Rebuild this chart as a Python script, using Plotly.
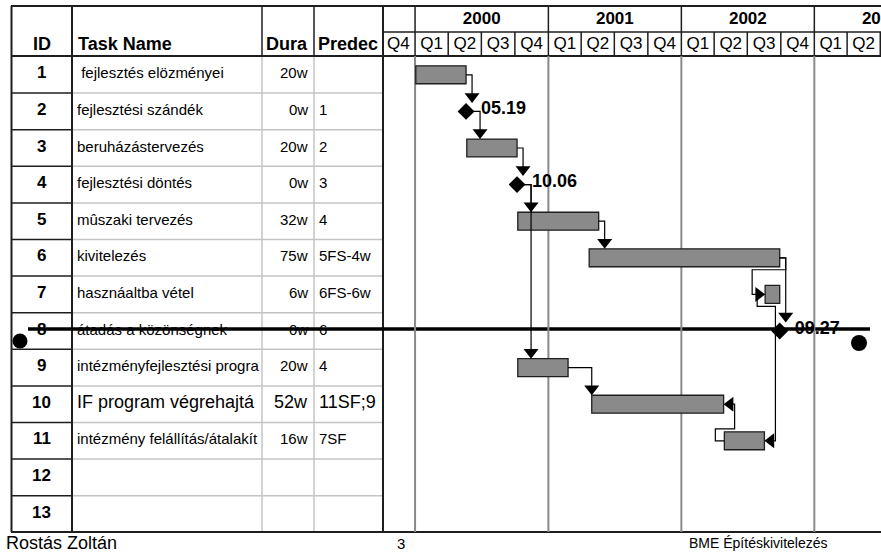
import plotly.graph_objects as go
from datetime import datetime, timedelta

# ---------------- data ----------------
task_ids = ["1", "2", "3", "4", "5", "6", "7", "8", "9", "10", "11", "12", "13"]
task_names = [" fejlesztés elözményei", "fejlesztési szándék", "beruházástervezés",
              "fejlesztési döntés", "mûszaki tervezés", "kivitelezés",
              "hasznáaltba vétel", "átadás a közönségnek", "intézményfejlesztési progra",
              "IF program végrehajtá", "intézmény felállítás/átalakít", "", ""]
duration_labels = ["20w", "0w", "20w", "0w", "32w", "75w", "6w", "0w", "20w", "52w", "16w", "", ""]
predecessor_labels = ["", "1", "2", "3", "4", "5FS-4w", "6FS-6w", "6", "4", "11SF;9", "7SF", "", ""]

task_rows = [1, 2, 3, 4, 5, 6, 7, 8, 9, 10, 11]
task_starts = ["2000-01-03", "2000-05-19", "2000-05-22", "2000-10-06", "2000-10-09",
               "2001-04-23", "2002-08-19", "2002-09-27", "2000-10-09", "2001-04-30", "2002-04-29"]
task_weeks = [20, 0, 20, 0, 32, 75, 6, 0, 20, 52, 16]
milestone_text = ["", "05.19", "", "10.06", "", "", "", "09.27", "", "", ""]

links = [(1, 2, "FS"), (2, 3, "FS"), (3, 4, "FS"), (4, 5, "FS"), (4, 9, "FS"),
         (5, 6, "FS"), (6, 7, "FS"), (6, 8, "FS"), (9, 10, "FS"), (7, 11, "SF"), (11, 10, "SF")]

year_starts = ["2000-01-01", "2001-01-01", "2002-01-01", "2003-01-01", "2004-01-01"]
year_labels = ["2000", "2001", "2002", "2003"]
quarter_starts = ["1999-10-01", "2000-01-01", "2000-04-01", "2000-07-01", "2000-10-01",
                  "2001-01-01", "2001-04-01", "2001-07-01", "2001-10-01",
                  "2002-01-01", "2002-04-01", "2002-07-01", "2002-10-01",
                  "2003-01-01", "2003-04-01", "2003-07-01"]
quarter_labels = ["Q4", "Q1", "Q2", "Q3", "Q4", "Q1", "Q2", "Q3", "Q4",
                  "Q1", "Q2", "Q3", "Q4", "Q1", "Q2"]

footer_left = "Rostás Zoltán"
footer_mid = "3"
footer_right = "BME Építéskivitelezés"
struck_row = 8

# ---------------- layout geometry ----------------
W, H = 881, 553
BODY_TOP = 56.5
ROW_H = 36.6
GANTT_LEFT = 383
X2_RANGE = ["1999-10-05", "2003-07-03"]
DPP = (datetime(2003, 7, 3) - datetime(1999, 10, 5)).days / (W - GANTT_LEFT)


def Y(px):
    return 0.5 + (px - BODY_TOP) / ROW_H


def DY(px):
    return px / ROW_H


def DX(px):
    return timedelta(days=px * DPP)


HB = 0.245  # half bar height (rows)
DIA = DY(8.5)

NARROW = "Liberation Sans Narrow, Arial Narrow, Liberation Sans, Arial"
SANS = "Liberation Sans, Arial, Helvetica"
DARK = "#1e1e1e"
LIGHT = "#c4c4c4"
GRAYV = "#8a8a8a"

fig = go.Figure()

# ---------------- struck-through row overlay (drawn on the full-width axis) ----------------
fig.add_trace(go.Scatter(x=[28, 870], y=[struck_row - DY(2)] * 2, mode="lines",
                         line=dict(color="#000000", width=3.5), xaxis="x", yaxis="y",
                         hoverinfo="skip"))
fig.add_trace(go.Scatter(x=[20, 859], y=[struck_row + DY(10), struck_row + DY(12)], mode="markers",
                         marker=dict(size=[15, 16], color="#000000", opacity=1, line=dict(width=0)),
                         xaxis="x", yaxis="y", hoverinfo="skip"))

# ---------------- task geometry ----------------
geo = {}
for row, s, w in zip(task_rows, task_starts, task_weeks):
    st = datetime.fromisoformat(s)
    if w == 0:
        st = st + timedelta(days=1)
        en = st
    else:
        en = st + timedelta(days=7 * w - 2)
    geo[row] = dict(start=st, end=en, y=row, ms=(w == 0))

# ---------------- bars ----------------
bar_ids = [r for r in task_rows if not geo[r]["ms"]]
fig.add_trace(go.Bar(
    y=bar_ids,
    base=[geo[r]["start"] for r in bar_ids],
    x=[(geo[r]["end"] - geo[r]["start"]).total_seconds() * 1000 for r in bar_ids],
    orientation="h", width=2 * HB,
    marker=dict(color="#8a8a8a", line=dict(color=DARK, width=1.3)),
    xaxis="x2", yaxis="y", hoverinfo="skip"))

# ---------------- links ----------------
lx, ly = [], []
ax_, ay_, asym = [], [], []


def top_of(j):
    return geo[j]["y"] - (DIA if geo[j]["ms"] else HB)


for i, j, kind in links:
    gi, gj = geo[i], geo[j]
    y0, yj = gi["y"], gj["y"]
    if kind == "FS":
        x0 = gi["end"]
        off = DX(14) if gi["ms"] else DX(6)
        xv = max(x0 + off, gj["start"])
        limit = gj["end"] + (DX(8) if gj["ms"] else timedelta(0))
        if xv <= limit:
            yc = top_of(j) - DY(6.5)
            pts = [(x0, y0), (xv, y0), (xv, yc)]
            ax_.append(xv); ay_.append(yc); asym.append("triangle-down")
        else:
            yb = y0 + HB + DY(3)
            xl = gj["start"] - DX(13)
            xc = gj["start"] - DX(6.5)
            pts = [(x0, y0), (x0 + DX(6), y0), (x0 + DX(6), yb), (xl, yb), (xl, yj), (xc, yj)]
            ax_.append(xc); ay_.append(yj); asym.append("triangle-right")
    else:  # SF
        x0 = gi["start"]
        xe = gj["end"]
        if yj > y0:
            yb = y0 + HB + DY(3)
            xl = x0 - DX(8)
        else:
            yb = y0 - HB - DY(3)
            xl = x0 - DX(9)
        xr = xe + DX(11)
        xc = xe + DX(6.5)
        pts = [(x0, y0), (xl, y0), (xl, yb), (xr, yb), (xr, yj), (xc, yj)]
        ax_.append(xc); ay_.append(yj); asym.append("triangle-left")
    for px_, py_ in pts:
        lx.append(px_); ly.append(py_)
    lx.append(None); ly.append(None)

fig.add_trace(go.Scatter(x=lx, y=ly, mode="lines", line=dict(color="#000000", width=1.2),
                         xaxis="x2", yaxis="y", hoverinfo="skip"))
fig.add_trace(go.Scatter(x=ax_, y=ay_, mode="markers",
                         marker=dict(symbol=asym, size=13, color="#000000", line=dict(width=0)),
                         xaxis="x2", yaxis="y", hoverinfo="skip"))

# ---------------- milestones ----------------
ms_ids = [r for r in task_rows if geo[r]["ms"]]
fig.add_trace(go.Scatter(
    x=[geo[r]["start"] for r in ms_ids], y=ms_ids, mode="markers",
    marker=dict(symbol="diamond", size=13, color="#000000"),
    xaxis="x2", yaxis="y", hoverinfo="skip"))
fig.add_trace(go.Scatter(
    x=[geo[r]["start"] + DX(15) for r in ms_ids],
    y=[r - DY(2) for r in ms_ids],
    text=[milestone_text[task_rows.index(r)] for r in ms_ids],
    mode="text", textposition="middle right",
    textfont=dict(family=SANS, size=18, color="#000000", weight="bold"),
    xaxis="x2", yaxis="y", hoverinfo="skip", cliponaxis=False))

# ---------------- timescale header text ----------------
qs = [datetime.fromisoformat(q) for q in quarter_starts]
q_mid = [qs[k] + (qs[k + 1] - qs[k]) / 2 for k in range(len(quarter_labels))]
fig.add_trace(go.Scatter(x=q_mid, y=[Y(44.5)] * len(q_mid), text=quarter_labels,
                         mode="text", textfont=dict(family=SANS, size=17, color="#000000"),
                         xaxis="x2", yaxis="y", hoverinfo="skip", cliponaxis=True))
ys = [datetime.fromisoformat(q) for q in year_starts]
y_mid = [ys[k] + (ys[k + 1] - ys[k]) / 2 for k in range(len(year_labels))]
fig.add_trace(go.Scatter(x=y_mid, y=[Y(19.5)] * len(y_mid), text=year_labels,
                         mode="text", textfont=dict(family=SANS, size=17, color="#000000", weight="bold"),
                         xaxis="x2", yaxis="y", hoverinfo="skip", cliponaxis=True))

# ---------------- table grid (shapes) ----------------
shapes = []


def line(x0, y0, x1, y1, color, width, xref="x"):
    shapes.append(dict(type="line", xref=xref, yref="y", x0=x0, x1=x1, y0=y0, y1=y1,
                       line=dict(color=color, width=width), layer="below"))


n_rows = len(task_ids)
for k in range(1, n_rows):
    yb = k + 0.5
    line(11, yb, 72, yb, DARK, 1.5)
    line(72, yb, GANTT_LEFT, yb, LIGHT, 1.5)
for xc in (262, 314):
    line(xc, Y(6), xc, Y(56), DARK, 1.5)
    line(xc, Y(56), xc, Y(532), LIGHT, 1.5)
# gantt header
line(GANTT_LEFT, Y(32), W, Y(32), DARK, 1.5)
for q in quarter_starts:
    if q not in year_starts:
        line(q, Y(32), q, Y(56), DARK, 1.5, xref="x2")
for yv in year_starts:
    line(yv, Y(6), yv, Y(56), DARK, 1.5, xref="x2")
    line(yv, Y(56), yv, Y(532), GRAYV, 2, xref="x2")
# outer frame
line(11, Y(6), W, Y(6), DARK, 2)
line(11, Y(532), W, Y(532), DARK, 2)
line(11, Y(56), W, Y(56), DARK, 2)
line(11.5, Y(6), 11.5, Y(532), DARK, 2)
line(72, Y(6), 72, Y(532), DARK, 2)
line(GANTT_LEFT, Y(6), GANTT_LEFT, Y(532), DARK, 2)

# ---------------- table text ----------------
ann = []


def txt(x, y, s, anchor, size, family=SANS, bold=False):
    ann.append(dict(x=x, y=y, xref="x", yref="y", text=s, showarrow=False,
                    xanchor=anchor, yanchor="middle",
                    font=dict(family=family, size=size, color="#000000",
                              weight="bold" if bold else "normal")))


txt(41.5, Y(44), "ID", "center", 18, bold=True)
txt(76, Y(44), "Task Name", "left", 18, bold=True)
txt(264, Y(44), "Dura", "left", 18, bold=True)
txt(316, Y(44), "Predec", "left", 18, bold=True)

for k in range(n_rows):
    r = k + 1
    yy = r - DY(2)
    txt(41.5, yy, task_ids[k], "center", 17, bold=True)
    fam, sz = (SANS, 18) if r == 10 else (NARROW, 15)
    if task_names[k]:
        name = task_names[k]
        if name.startswith(" "):
            name = "\u00a0" + name[1:]
        txt(75, yy, name, "left", sz, family=fam)
    if duration_labels[k]:
        txt(310, yy, duration_labels[k], "right", sz, family=fam)
    if predecessor_labels[k]:
        txt(317, yy, predecessor_labels[k], "left", sz, family=fam)

# footer
txt(4, Y(543), footer_left, "left", 18)
txt(401, Y(543), footer_mid, "center", 15)
txt(830, Y(543), footer_right, "right", 14)

fig.update_layout(
    width=W, height=H, margin=dict(l=0, r=0, t=0, b=0),
    paper_bgcolor="white", plot_bgcolor="rgba(0,0,0,0)", showlegend=False, hovermode=False,
    bargap=0,
    xaxis=dict(domain=[0, 1], range=[0, W], visible=False, fixedrange=True),
    xaxis2=dict(domain=[GANTT_LEFT / W, 1], range=X2_RANGE, type="date", visible=False,
                anchor="y", fixedrange=True),
    yaxis=dict(domain=[0, 1], range=[Y(H), Y(0)], visible=False, fixedrange=True),
    shapes=shapes, annotations=ann,
)

fig.write_html("out.html", config={"displayModeBar": False, "staticPlot": True},
               post_script="document.body.style.margin='0px';")
